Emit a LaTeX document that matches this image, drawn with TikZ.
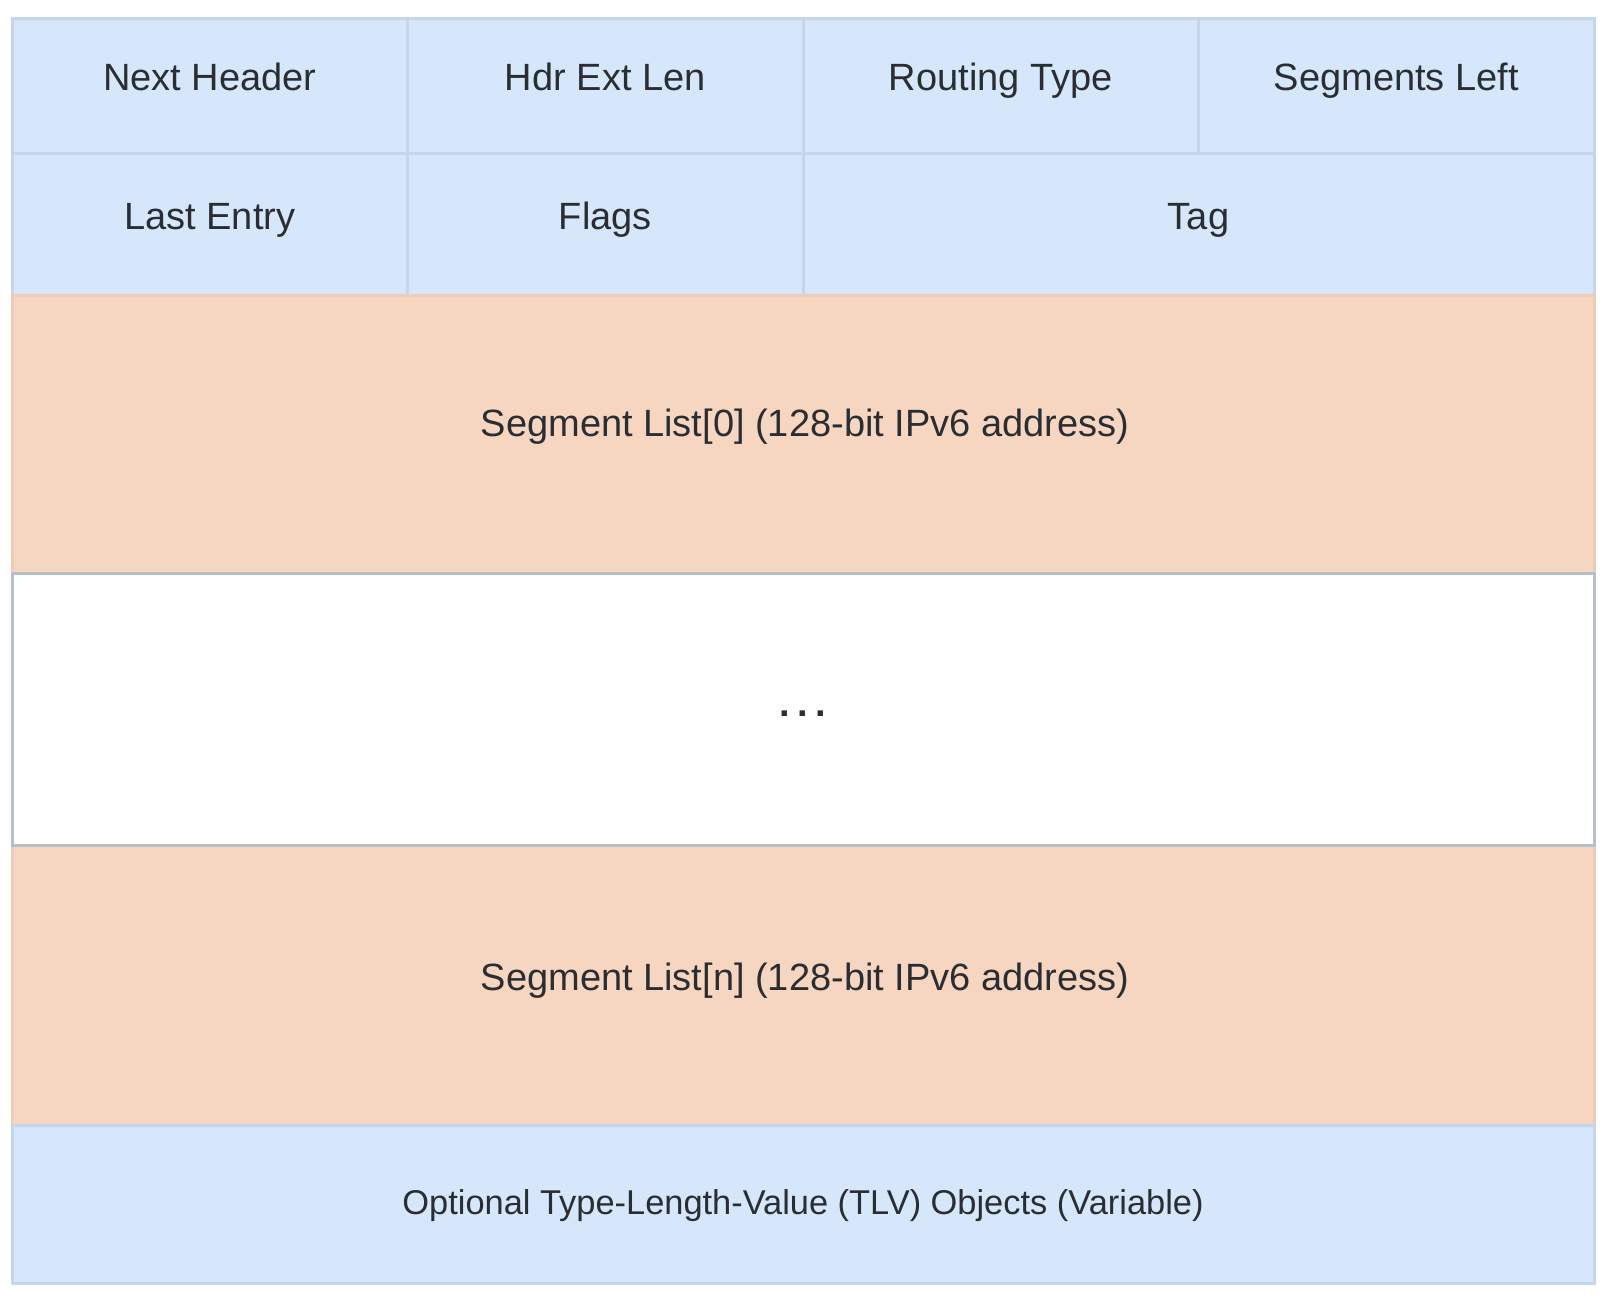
\documentclass[tikz,border=0pt]{standalone}
\usepackage{fontspec}
\setmainfont{Liberation Sans}
\definecolor{cellblue}{HTML}{D6E7FC}
\definecolor{cellblueline}{HTML}{C4D5EC}
\definecolor{cellorange}{HTML}{F6D6C1}
\definecolor{cellorangeline}{HTML}{EDCDB8}
\definecolor{whiteline}{HTML}{B5BFCD}
\definecolor{txt}{HTML}{2A2E33}
\begin{document}
\begin{tikzpicture}[x=1pt,y=-1pt,
  cellbase/.style={rectangle, inner sep=0pt, outer sep=0pt, line width=3pt},
  bluecell/.style={cellbase, draw=cellblueline, fill=cellblue},
  orangecell/.style={cellbase, draw=cellorangeline, fill=cellorange},
  whitecell/.style={cellbase, draw=whiteline, fill=white},
  lbl/.style={anchor=base, inner sep=0pt, text=txt, font=\fontsize{38}{44}\selectfont},
  lblsmall/.style={lbl, font=\fontsize{34.4}{40}\selectfont}]
\useasboundingbox (0,0) rectangle (1612,1310);
% row 1
\node[bluecell, minimum width=395.5pt, minimum height=135pt] (nh) at (209.75,85.5) {};
\node[bluecell, minimum width=395.5pt, minimum height=135pt] (hel) at (605.25,85.5) {};
\node[bluecell, minimum width=395.5pt, minimum height=135pt] (rt) at (1000.75,85.5) {};
\node[bluecell, minimum width=395.5pt, minimum height=135pt] (sl) at (1396.25,85.5) {};
% row 2
\node[bluecell, minimum width=395.5pt, minimum height=142pt] (le) at (209.75,224) {};
\node[bluecell, minimum width=395.5pt, minimum height=142pt] (fl) at (605.25,224) {};
\node[bluecell, minimum width=791pt, minimum height=142pt] (tag) at (1198.5,224) {};
% segment lists
\node[orangecell, minimum width=1582pt, minimum height=278pt] (s0) at (803,434) {};
\node[orangecell, minimum width=1582pt, minimum height=280pt] (sn) at (803,985) {};
\node[bluecell, minimum width=1582pt, minimum height=158pt] (tlv) at (803,1204) {};
\node[whitecell, minimum width=1582pt, minimum height=272pt] (dots) at (803,709) {};
% labels
\node[lbl] (tnh) at (209.75,90) {Next Header};
\node[lbl] (thel) at (605.25,90) {Hdr Ext Len};
\node[lbl] (trt) at (1000.75,90) {Routing Type};
\node[lbl] (tsl) at (1396.25,90) {Segments Left};
\node[lbl] (tle) at (209.75,229) {Last Entry};
\node[lbl] (tfl) at (605.25,229) {Flags};
\node[lbl] (ttag) at (1198.5,229) {Tag};
\node[lbl] (ts0) at (805,436) {Segment List[0] (128-bit IPv6 address)};
\node[lbl] (tdots) at (803,716) {\bfseries .\hspace{7.4pt}.\hspace{7.4pt}.};
\node[lbl] (tsn) at (805,990) {Segment List[n] (128-bit IPv6 address)};
\node[lblsmall] (ttlv) at (803,1214) {Optional Type-Length-Value (TLV) Objects (Variable)};
\end{tikzpicture}
\end{document}
